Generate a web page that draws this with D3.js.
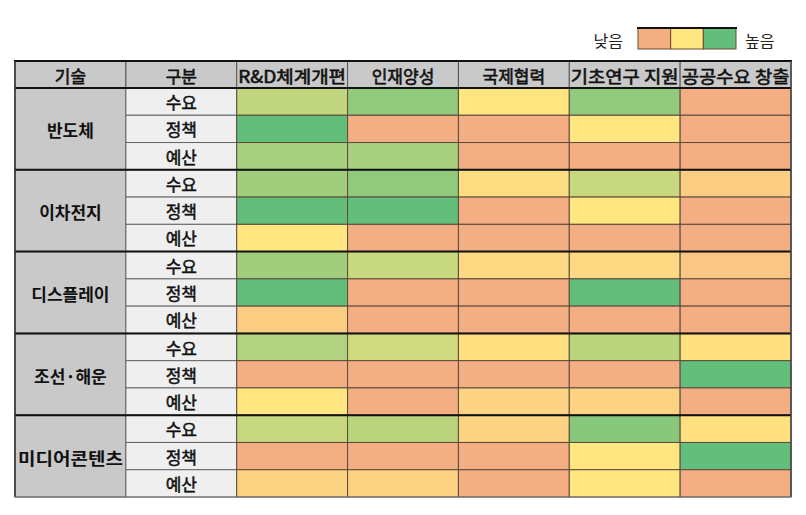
<!DOCTYPE html>
<html><head><meta charset="utf-8">
<script src="https://cdn.jsdelivr.net/npm/d3@7/dist/d3.min.js"></script>
<style>body{margin:0;background:#fff;} text{font-family:"Noto Sans CJK KR","Noto Sans",sans-serif;}</style>
</head><body><svg id="c" width="806" height="515"></svg>
<script>
const techs = ["반도체","이차전지","디스플레이","조선·해운","미디어콘텐츠"];
const subcats = ["수요","정책","예산"];
const measures = ["R&D체계개편","인재양성","국제협력","기초연구 지원","공공수요 창출"];
const headers = ["기술","구분"];
const legendLabels = ["낮음","높음"];
// score 0 (낮음) .. 100 (높음), rows: tech x subcat, columns: measures
const scores = [
  [70, 85, 50, 85, 0],
  [100, 0, 0, 50, 0],
  [78, 78, 0, 0, 0],
  [80, 85, 42, 68, 28],
  [100, 100, 0, 50, 0],
  [50, 0, 0, 0, 0],
  [80, 68, 38, 38, 22],
  [100, 0, 0, 100, 0],
  [28, 0, 0, 0, 0],
  [75, 65, 45, 72, 45],
  [0, 0, 0, 0, 100],
  [50, 0, 33, 33, 0],
  [68, 72, 33, 88, 45],
  [0, 0, 0, 50, 100],
  [33, 33, 0, 50, 0]
];
const legendSteps = [0, 50, 100];

const svg = d3.select("#c");
const color = d3.scaleLinear().domain([0,50,100]).range(["#F4AE84","#FFE681","#63BE7B"]);

const cols = headers.concat(measures);
const x = d3.scaleBand().domain(cols).range([15, 791]);
const rowKeys = [];
techs.forEach(t => subcats.forEach(s => rowKeys.push(t + "|" + s)));
const y = d3.scaleBand().domain(rowKeys).range([88, 497]);
const headTop = 61;

// header
svg.selectAll("rect.h").data(cols).enter().append("rect")
  .attr("x", d => x(d)).attr("y", headTop).attr("width", x.bandwidth()).attr("height", 88 - headTop)
  .attr("fill", "#C9C9C9").attr("stroke", "#555").attr("stroke-width", 1);
svg.selectAll("text.h").data(cols).enter().append("text")
  .attr("x", d => x(d) + x.bandwidth()/2).attr("y", (headTop + 88)/2 + 1)
  .attr("text-anchor", "middle").attr("dominant-baseline", "central")
  .attr("font-size", 17).attr("font-weight", 400).attr("fill", "#111")
  .attr("stroke", "#111").attr("stroke-width", 0.6)
  .attr("textLength", d => d.length > 5 ? x.bandwidth() - 3 : null)
  .attr("lengthAdjust", "spacingAndGlyphs")
  .text(d => d);

// tech group cells
svg.selectAll("rect.t").data(techs).enter().append("rect")
  .attr("x", x("기술")).attr("y", d => y(d + "|수요")).attr("width", x.bandwidth()).attr("height", y.bandwidth()*3)
  .attr("fill", "#C9C9C9").attr("stroke", "#555");
svg.selectAll("text.t").data(techs).enter().append("text")
  .attr("x", x("기술") + x.bandwidth()/2).attr("y", d => y(d + "|정책") + y.bandwidth()/2 + 1)
  .attr("text-anchor", "middle").attr("dominant-baseline", "central")
  .attr("font-size", 17).attr("font-weight", 700).attr("fill", "#111")
  .attr("textLength", d => d.length > 5 ? x.bandwidth() - 6 : null)
  .attr("lengthAdjust", "spacingAndGlyphs")
  .text(d => d);

// subcat cells
svg.selectAll("rect.s").data(rowKeys).enter().append("rect")
  .attr("x", x("구분")).attr("y", d => y(d)).attr("width", x.bandwidth()).attr("height", y.bandwidth())
  .attr("fill", "#EFEFEF").attr("stroke", "#666");
svg.selectAll("text.s").data(rowKeys).enter().append("text")
  .attr("x", x("구분") + x.bandwidth()/2).attr("y", d => y(d) + y.bandwidth()/2)
  .attr("text-anchor", "middle").attr("dominant-baseline", "central")
  .attr("font-size", 17).attr("font-weight", 400).attr("fill", "#111")
  .attr("stroke", "#111").attr("stroke-width", 0.5)
  .text(d => d.split("|")[1]);

// heat cells
const cells = [];
rowKeys.forEach((r, i) => measures.forEach((m, j) => cells.push({r, m, v: scores[i][j]})));
svg.selectAll("rect.c").data(cells).enter().append("rect")
  .attr("x", d => x(d.m)).attr("y", d => y(d.r)).attr("width", x.bandwidth()).attr("height", y.bandwidth())
  .attr("fill", d => color(d.v)).attr("stroke", "#5a4a3a").attr("stroke-width", 1);

// thick group separators
svg.selectAll("line.g").data(techs).enter().append("line")
  .attr("x1", 15).attr("x2", 791)
  .attr("y1", d => y(d + "|수요")).attr("y2", d => y(d + "|수요"))
  .attr("stroke", "#111").attr("stroke-width", 2);
svg.append("line").attr("x1", 14).attr("x2", 792).attr("y1", headTop).attr("y2", headTop)
  .attr("stroke", "#111").attr("stroke-width", 2);
svg.append("line").attr("x1", 15).attr("x2", 15).attr("y1", headTop).attr("y2", 497)
  .attr("stroke", "#333").attr("stroke-width", 1.5);
svg.append("line").attr("x1", 791).attr("x2", 791).attr("y1", headTop).attr("y2", 497)
  .attr("stroke", "#444").attr("stroke-width", 1.5);
svg.append("line").attr("x1", 15).attr("x2", 791).attr("y1", 497).attr("y2", 497)
  .attr("stroke", "#777").attr("stroke-width", 1);

// legend
const lx = d3.scaleBand().domain(legendSteps).range([638, 736]);
svg.selectAll("rect.l").data(legendSteps).enter().append("rect")
  .attr("x", d => lx(d)).attr("y", 28).attr("width", lx.bandwidth()).attr("height", 21)
  .attr("fill", d => color(d)).attr("stroke", "#6b4a30").attr("stroke-width", 1);
svg.append("line").attr("x1", 637).attr("x2", 737).attr("y1", 28).attr("y2", 28)
  .attr("stroke", "#111").attr("stroke-width", 2);
svg.append("text").attr("x", 623).attr("y", 40).attr("text-anchor", "end").attr("dominant-baseline", "central")
  .attr("font-size", 16).attr("fill", "#222").text(legendLabels[0]);
svg.append("text").attr("x", 745).attr("y", 40).attr("text-anchor", "start").attr("dominant-baseline", "central")
  .attr("font-size", 16).attr("fill", "#222").text(legendLabels[1]);
</script></body></html>
